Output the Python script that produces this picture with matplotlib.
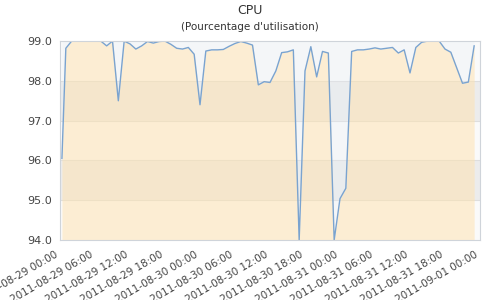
import matplotlib
matplotlib.use("Agg")
import matplotlib.pyplot as plt
import matplotlib.transforms as mtransforms
import pandas as pd

title = "CPU"
subtitle = "(Pourcentage d'utilisation)"

start = pd.Timestamp("2011-08-29 00:00")
hours = [0.33] + list(range(1, 72))
values = [96.05, 98.82, 99.0, 99.0, 99.0, 99.0, 99.0, 99.0, 98.88, 99.0,
          97.5, 99.0, 98.93, 98.8, 98.88, 98.99, 98.95, 98.99, 99.0, 98.92,
          98.82, 98.8, 98.84, 98.67, 97.4, 98.75, 98.78, 98.78, 98.79, 98.87,
          98.94, 98.99, 98.95, 98.9, 97.9, 97.98, 97.96, 98.25, 98.71, 98.73,
          98.78, 94.0, 98.25, 98.86, 98.1, 98.74, 98.7, 94.0, 95.04, 95.3,
          98.74, 98.78, 98.78, 98.8, 98.83, 98.8, 98.82, 98.84, 98.7, 98.78,
          98.2, 98.84, 98.97, 99.0, 99.0, 99.0, 98.8, 98.72, 98.33, 97.94,
          97.97, 98.88]
y_ticks = [94.0, 95.0, 96.0, 97.0, 98.0, 99.0]
x_ticks = pd.date_range("2011-08-29 00:00", "2011-09-01 00:00", freq="6h")

t = [start + pd.Timedelta(hours=h) for h in hours]

fig = plt.figure(figsize=(5, 3), dpi=100)
ax = fig.add_axes([0.12, 0.2, 0.84, 0.663])
ax.set_facecolor("white")

# alternating bands
for lo in [94.0, 96.0, 98.0]:
    ax.axhspan(lo, lo + 1, color="#fafafa", zorder=0, lw=0)
for lo in [95.0, 97.0]:
    ax.axhspan(lo, lo + 1, color="#ececec", zorder=0, lw=0)
for y in y_ticks[1:-1]:
    ax.axhline(y, color="#dedede", lw=0.8, zorder=0.5)

ax.fill_between(t, values, 99.0, color="#e4edf6", alpha=0.25, lw=0, zorder=1)
ax.fill_between(t, values, 94.0, color="#ffe2ad", alpha=0.5, lw=0, zorder=1)
ax.plot(t, values, color="#7aa3cf", lw=1.0, zorder=2)

ax.set_ylim(94.0, 99.0)
ax.set_xlim(x_ticks[0], x_ticks[-1])
ax.set_yticks(y_ticks)
ax.set_yticklabels([f"{v:.1f}" for v in y_ticks])
ax.set_xticks(x_ticks)
ax.set_xticklabels([d.strftime("%Y-%m-%d %H:%M") for d in x_ticks], rotation=30,
                   ha="right", rotation_mode="anchor")
ax.tick_params(axis="both", length=0, colors="#444444")
ax.tick_params(axis="y", labelsize=8, pad=6)
ax.tick_params(axis="x", labelsize=7.5, pad=7)
offset = mtransforms.ScaledTranslation(-0.05, 0, fig.dpi_scale_trans)
for lbl in ax.get_xticklabels():
    lbl.set_transform(lbl.get_transform() + offset)
for s in ax.spines.values():
    s.set_color("#cfd4da")
    s.set_linewidth(0.8)

fig.text(0.5, 0.965, title, ha="center", va="center", fontsize=9, color="#333333")
fig.text(0.5, 0.91, subtitle, ha="center", va="center", fontsize=7.5, color="#333333")

fig.savefig("out.png", dpi=100)
